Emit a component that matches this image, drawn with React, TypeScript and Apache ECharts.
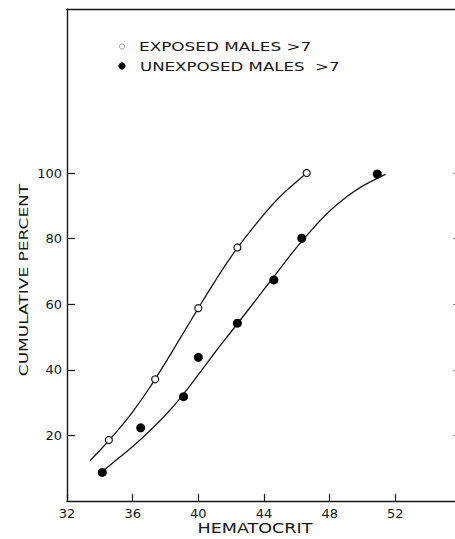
import React, { useEffect, useRef } from "react";
import * as echarts from "echarts";

const xTicks = [32, 36, 40, 44, 48, 52];
const yTicks = [20, 40, 60, 80, 100];

const exposedPoints = [
  [34.55, 18.6],
  [37.37, 37.1],
  [40.0, 58.8],
  [42.38, 77.3],
  [46.6, 100],
];
const unexposedPoints = [
  [34.15, 8.7],
  [36.49, 22.3],
  [39.1, 31.8],
  [40.0, 43.8],
  [42.38, 54.2],
  [44.6, 67.4],
  [46.3, 80.1],
  [50.9, 99.7],
];
const exposedCurve = [
  [33.4, 12.3], [34, 15.4], [35, 21.0], [36, 27.2], [37, 34.3],
  [38, 42.2], [39, 50.5], [40, 58.8], [41, 66.9], [42, 74.5],
  [43, 81.2], [44, 87.4], [45, 92.9], [46, 97.4], [46.6, 100],
];
const unexposedCurve = [
  [34.15, 8.9], [35, 12.5], [36, 16.6], [37, 21.2], [38, 26.2],
  [39, 32.0], [40, 38.5], [41, 45.2], [42, 51.6], [43, 58.0],
  [44, 64.5], [45, 71.0], [46, 77.4], [47, 83.2], [48, 88.4],
  [49, 92.6], [50, 96.0], [51.4, 99.6],
];

const legendLabels = ["EXPOSED MALES >7", "UNEXPOSED MALES  >7"];
const xName = "HEMATOCRIT";
const yName = "CUMULATIVE PERCENT";

const INK = "#161616";
const FONT = "DejaVu Sans";

export default function App() {
  const ref = useRef<HTMLDivElement>(null);

  useEffect(() => {
    if (!ref.current) return;
    const chart = echarts.init(ref.current, null, { renderer: "svg" });
    const axisLine = { show: true, onZero: false, lineStyle: { color: INK, width: 1.4 } };
    const option: any = {
      animation: false,
      backgroundColor: "#ffffff",
      grid: { left: 67, right: 1, top: 9, bottom: 38, containLabel: false },
      xAxis: [
        {
          type: "value",
          position: "bottom",
          min: 32,
          max: 56,
          interval: 4,
          axisLine,
          axisTick: { show: true, inside: true, length: 7, customValues: xTicks, lineStyle: { color: INK, width: 1.2 } },
          axisLabel: { customValues: xTicks, color: INK, fontSize: 13, fontFamily: FONT, margin: 6 },
          splitLine: { show: false },
        },
        {
          type: "value",
          position: "top",
          min: 32,
          max: 56,
          interval: 4,
          axisLine,
          axisTick: { show: false },
          axisLabel: { show: false },
          splitLine: { show: false },
        },
      ],
      yAxis: [
        {
          type: "value",
          position: "left",
          min: 0,
          max: 150,
          interval: 10,
          axisLine,
          axisTick: { show: true, inside: true, length: 8, customValues: yTicks, lineStyle: { color: INK, width: 1.2 } },
          axisLabel: { customValues: yTicks, color: INK, fontSize: 13, fontFamily: FONT, margin: 5 },
          splitLine: { show: false },
        },
        {
          type: "value",
          position: "right",
          min: 0,
          max: 150,
          interval: 10,
          axisLine,
          axisTick: { show: true, inside: true, length: 8, customValues: yTicks, lineStyle: { color: "#888", width: 1 } },
          axisLabel: { show: false },
          splitLine: { show: false },
        },
      ],
      series: [
        {
          type: "line",
          data: exposedCurve,
          smooth: 0.4,
          showSymbol: false,
          lineStyle: { color: INK, width: 1.3 },
          z: 1,
        },
        {
          type: "line",
          data: unexposedCurve,
          smooth: 0.4,
          showSymbol: false,
          lineStyle: { color: INK, width: 1.3 },
          z: 1,
        },
        {
          type: "scatter",
          name: legendLabels[0],
          data: exposedPoints,
          symbol: "circle",
          symbolSize: 7,
          itemStyle: { color: "#ffffff", borderColor: INK, borderWidth: 1.2, opacity: 1 },
          z: 3,
        },
        {
          type: "scatter",
          name: legendLabels[1],
          data: unexposedPoints,
          symbol: "circle",
          symbolSize: 9,
          itemStyle: { color: "#000000", opacity: 1 },
          z: 3,
        },
      ],
      graphic: [
        { type: "circle", shape: { cx: 122, cy: 46.5, r: 2.6 }, style: { fill: "#fff", stroke: "#999", lineWidth: 1 } },
        { type: "circle", shape: { cx: 122, cy: 66, r: 3.6 }, style: { fill: "#000" } },
        {
          type: "text",
          x: 139,
          y: 46.7,
          scaleX: 1.35,
          style: { text: legendLabels[0], font: `12.5px ${FONT}`, fill: INK, align: "left", verticalAlign: "middle", textAlign: "left", textVerticalAlign: "middle" },
        },
        {
          type: "text",
          x: 140,
          y: 66.2,
          scaleX: 1.33,
          style: { text: legendLabels[1], font: `12.5px ${FONT}`, fill: INK, align: "left", verticalAlign: "middle", textAlign: "left", textVerticalAlign: "middle" },
        },
        {
          type: "text",
          x: 255,
          y: 528,
          scaleX: 1.3,
          style: { text: xName, font: `13.5px ${FONT}`, fill: INK, align: "center", verticalAlign: "middle", textAlign: "center", textVerticalAlign: "middle" },
        },
        {
          type: "text",
          x: 24,
          y: 280,
          rotation: Math.PI / 2,
          scaleX: 1.31,
          style: { text: yName, font: `13px ${FONT}`, fill: INK, align: "center", verticalAlign: "middle", textAlign: "center", textVerticalAlign: "middle" },
        },
      ],
    };
    chart.setOption(option);
    return () => chart.dispose();
  }, []);

  return (
    <div style={{ position: "fixed", left: 0, top: 0, width: 455, height: 539, overflow: "hidden", background: "#fff" }}>
      <div ref={ref} style={{ width: 462, height: 539 }} />
    </div>
  );
}
